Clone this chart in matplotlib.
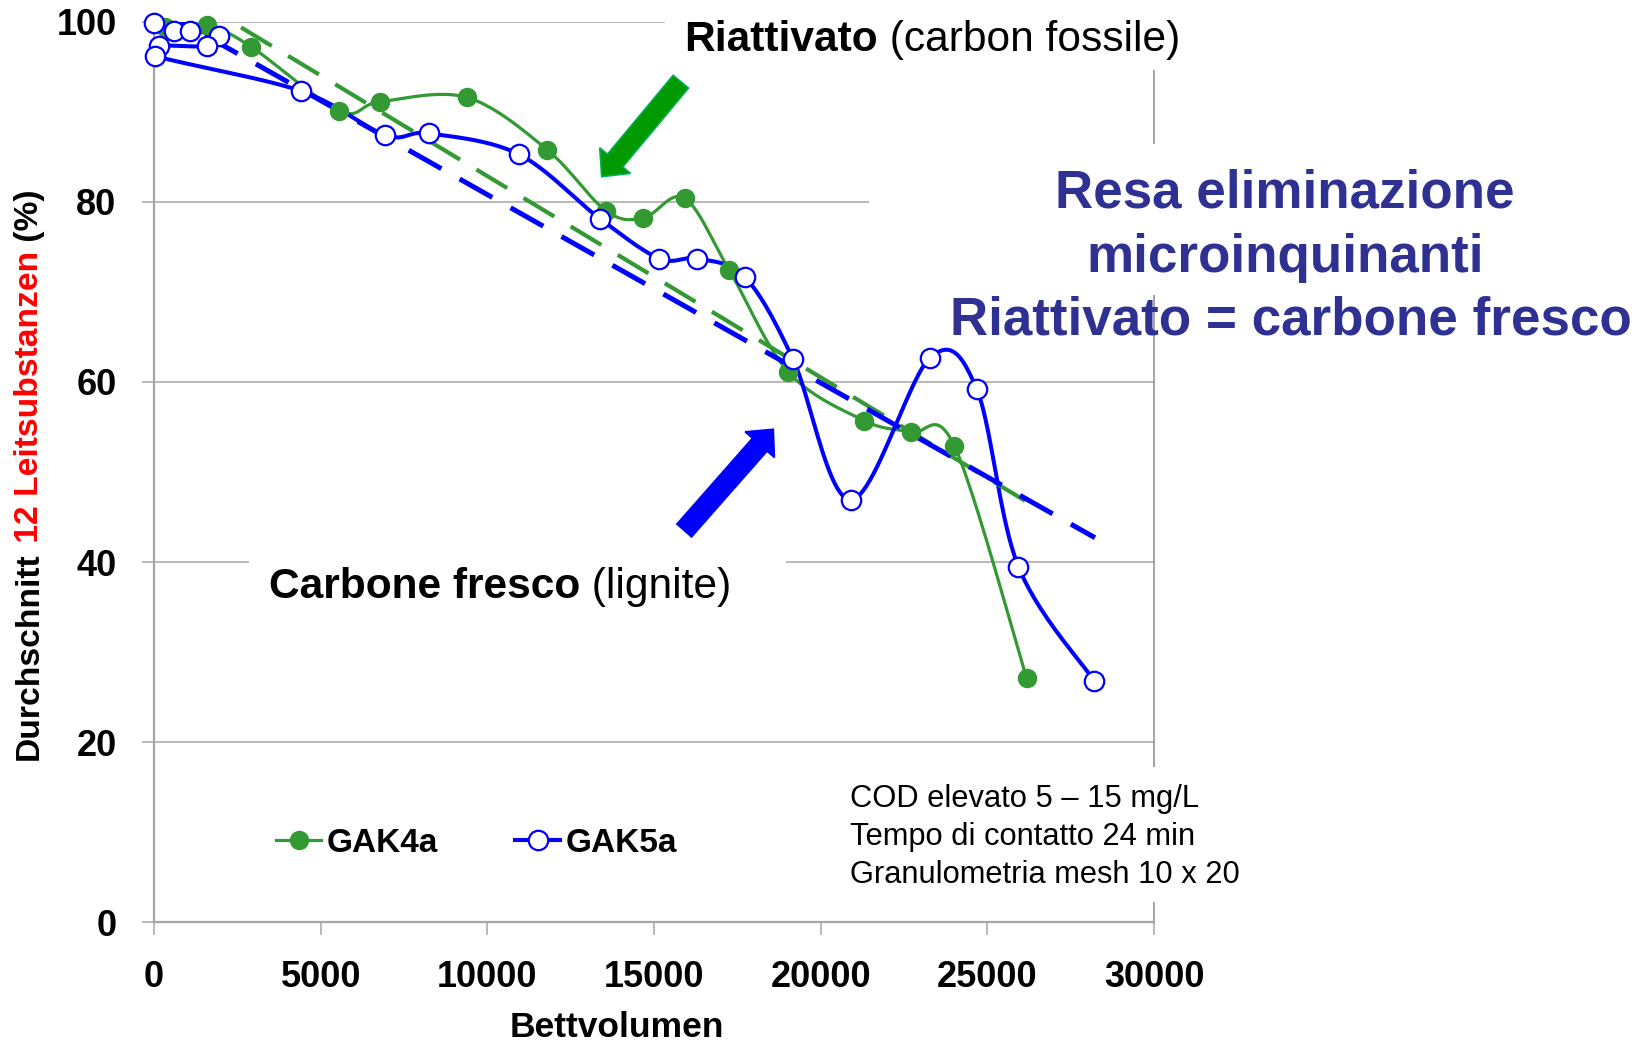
import matplotlib
matplotlib.use("Agg")
import matplotlib.pyplot as plt
import numpy as np
from matplotlib.patches import Rectangle, Polygon
from matplotlib.transforms import IdentityTransform
from matplotlib.lines import Line2D

plt.rcParams['font.family'] = ['Liberation Sans', 'DejaVu Sans']

W, H = 1651, 1042

# GAK4a - riattivato (carbon fossile)
gak4a_bv = [320, 1600, 2920, 5560, 6770, 9380, 11790, 13560, 14680, 15915,
            17260, 19030, 21310, 22700, 24010, 26180]
gak4a_pct = [99.4, 99.6, 97.2, 90.1, 91.1, 91.6, 85.8, 79.0, 78.2, 80.4,
             72.4, 61.1, 55.7, 54.4, 52.9, 27.1]

# GAK5a - carbone fresco (lignite), kept in the order the line joins them
gak5a_bv = [0, 590, 1090, 1940, 1590, 140, 40, 4415, 6936, 8238, 10936,
            13386, 15164, 16304, 17734, 19163, 20905, 23283, 24682, 25932, 28210]
gak5a_pct = [99.9, 99.0, 99.0, 98.4, 97.3, 97.3, 96.2, 92.3, 87.4, 87.6, 85.3,
             78.1, 73.7, 73.7, 71.6, 62.6, 46.9, 62.7, 59.2, 39.5, 26.8]

# linear trendlines, end points
trend4a_bv = [0, 26180]
trend4a_pct = [105.2, 46.7]
trend5a_bv = [0, 28230]
trend5a_pct = [101.7, 42.7]

GREEN = '#339933'
BLUE = '#0000ff'
NAVY = '#2e3192'
GRID = '#a6a6a6'


def smooth(xs, ys, n=25):
    # excel-like smoothed line (catmull-rom as bezier segments)
    p = np.column_stack([xs, ys]).astype(float)
    out = []
    for i in range(len(p) - 1):
        p0 = p[max(i - 1, 0)]
        p1, p2 = p[i], p[i + 1]
        p3 = p[min(i + 2, len(p) - 1)]
        c1 = p1 + (p2 - p0) / 6
        c2 = p2 - (p3 - p1) / 6
        t = np.linspace(0, 1, n)[:, None]
        seg = (1 - t)**3 * p1 + 3 * (1 - t)**2 * t * c1 + 3 * (1 - t) * t**2 * c2 + t**3 * p2
        out.append(seg if i == 0 else seg[1:])
    s = np.vstack(out)
    return s[:, 0], s[:, 1]


def px(x, y):
    # pixel coords measured from the top-left corner
    return (x, H - y)


def block_arrow(tail, tip, shaft_w, head_w, head_len, fc, ec):
    t = np.array(tail, float)
    p = np.array(tip, float)
    d = p - t
    d /= np.hypot(*d)
    nrm = np.array([-d[1], d[0]])
    b = p - d * head_len
    pts = [t + nrm * shaft_w / 2, b + nrm * shaft_w / 2, b + nrm * head_w / 2, p,
           b - nrm * head_w / 2, b - nrm * shaft_w / 2, t - nrm * shaft_w / 2]
    pts = [px(*q) for q in pts]
    return Polygon(pts, closed=True, facecolor=fc, edgecolor=ec, lw=1.2,
                   transform=IdentityTransform(), zorder=4)


fig = plt.figure(figsize=(W / 100, H / 100), dpi=100)
ax = fig.add_axes([154 / W, 1 - 922.3 / H, 1000 / W, 900.6 / H])

sx, sy = smooth(gak4a_bv, gak4a_pct)
ax.plot(sx, sy, color=GREEN, lw=2.3, zorder=2)
sx, sy = smooth(gak5a_bv, gak5a_pct)
ax.plot(sx, sy, color=BLUE, lw=2.9, zorder=2.1)

ax.plot(trend4a_bv, trend4a_pct, color=GREEN, lw=3.0, dashes=(8.6, 4.6), zorder=3)
ax.plot(trend5a_bv, trend5a_pct, color=BLUE, lw=3.6, dashes=(7.5, 4.2), zorder=3.1)

ax.plot(gak4a_bv, gak4a_pct, ls='none', marker='o', ms=13, color=GREEN,
        mec=GREEN, zorder=4, clip_on=False)
ax.plot(gak5a_bv, gak5a_pct, ls='none', marker='o', ms=14, mfc='white',
        mec=BLUE, mew=1.6, zorder=5, clip_on=False)

ax.set_xlim(0, 30000)
ax.set_ylim(0, 100)
ax.set_xticks(range(0, 30001, 5000))
ax.set_yticks(range(0, 101, 20))
ax.yaxis.grid(True, color=GRID, lw=1.1)
ax.set_axisbelow(True)
ax.spines['top'].set_visible(False)
for side in ['left', 'bottom']:
    ax.spines[side].set_color(GRID)
    ax.spines[side].set_linewidth(1.6)
ax.spines['right'].set_color('#8c8c8c')
ax.spines['right'].set_linewidth(1.1)
ax.tick_params(axis='both', direction='out', length=9, width=1.1, color=GRID,
               pad=18, labelsize=26)
for lab in ax.get_xticklabels() + ax.get_yticklabels():
    lab.set_fontweight('bold')

ax.set_xlabel('Bettvolumen', fontsize=25.5, fontweight='bold')
ax.xaxis.set_label_coords(0.463, -0.099)
ax.xaxis.label.set_va('top')

# white boxes of the slide text fields covering grid lines
for x0, y0, x1, y1 in [(665, 0, 1195, 70), (869, 144, W, 295),
                       (249, 545, 786, 628), (832, 767, 1245, 902)]:
    fig.add_artist(Rectangle(px(x0, y1), x1 - x0, y1 - y0, facecolor='white',
                             edgecolor='none', transform=IdentityTransform(), zorder=1))

renderer = fig.canvas.get_renderer()


def two_part(x, y, bold, normal, size):
    t1 = fig.text(x / W, 1 - y / H, bold, fontsize=size, fontweight='bold',
                  ha='left', va='baseline', zorder=3)
    w = t1.get_window_extent(renderer).width
    fig.text((x + w) / W, 1 - y / H, normal, fontsize=size,
             ha='left', va='baseline', zorder=3)


two_part(684, 50.7, 'Riattivato', ' (carbon fossile)', 30.6)
two_part(269, 598, 'Carbone fresco', ' (lignite)', 30.6)

for xc, yb, s in [(1285, 207, 'Resa eliminazione'), (1285, 271.7, 'microinquinanti'),
                  (1291, 335, 'Riattivato = carbone fresco')]:
    fig.text(xc / W, 1 - yb / H, s, fontsize=38.2, fontweight='bold', color=NAVY,
             ha='center', va='baseline', zorder=3)

for yb, s in [(806.7, 'COD elevato 5 – 15 mg/L'), (845, 'Tempo di contatto 24 min'),
              (883, 'Granulometria mesh 10 x 20')]:
    fig.text(849.5 / W, 1 - yb / H, s, fontsize=22.2, ha='left', va='baseline', zorder=3)

# y label with the red part
parts = [('Durchschnitt', 'black'), (' 12 Leitsubstanzen', '#ff0000'), (' (%)', 'black')]
ypos = 760.0
for s, c in parts:
    tmp = fig.text(0, 0, s, fontsize=24.2, fontweight='bold')
    w = tmp.get_window_extent(renderer).width
    tmp.remove()
    fig.text(38 / W, 1 - ypos / H, s, fontsize=24.2, fontweight='bold', color=c,
             rotation=90, rotation_mode='anchor', ha='left', va='baseline', zorder=3)
    ypos -= w

fig.add_artist(block_arrow((680.8, 81.7), (601.7, 176.7), 20, 40, 21, '#009900', '#00b050'))
fig.add_artist(block_arrow((684.2, 530.5), (773.3, 429.3), 19.5, 39, 20.5, BLUE, BLUE))

handles = [Line2D([], [], color=GREEN, lw=2.3, marker='o', ms=13),
           Line2D([], [], color=BLUE, lw=2.9, marker='o', ms=14, mfc='white', mew=1.6)]
fig.legend(handles, ['GAK4a', 'GAK5a'], loc='center left',
           bbox_to_anchor=(276 / W, 1 - 843 / H), ncol=2, frameon=False,
           borderpad=0, borderaxespad=0, handlelength=1.35, handletextpad=0.18,
           columnspacing=2.3, prop={'size': 24, 'weight': 'bold'})

fig.savefig('out.png', dpi=100)
